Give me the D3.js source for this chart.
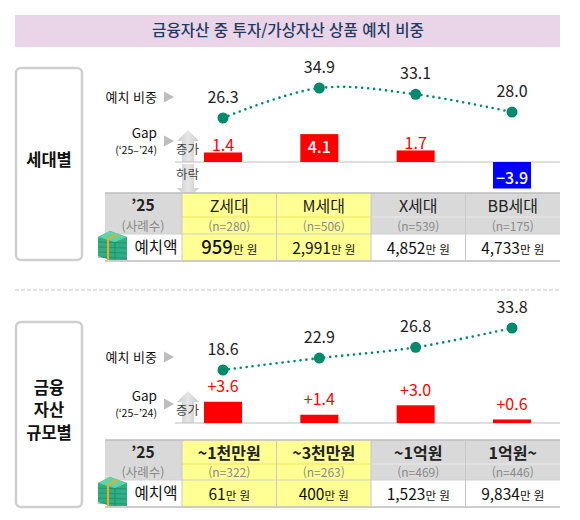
<!DOCTYPE html>
<html lang="ko">
<head>
<meta charset="UTF-8">
<title>금융자산 중 투자/가상자산 상품 예치 비중</title>
<script src="https://d3js.org/d3.v7.min.js"></script>
<style>
  body { margin: 0; background: #fff; }
  svg text { font-family: "Noto Sans CJK KR", "Noto Sans", sans-serif; }
</style>
</head>
<body>
<script>
// data
const genCats = ["Z세대", "M세대", "X세대", "BB세대"];
const genN = [280, 506, 539, 175];
const genShare = [26.3, 34.9, 33.1, 28.0];
const genGap = [1.4, 4.1, 1.7, -3.9];
const genAmount = [959, 2991, 4852, 4733];

const assetCats = ["~1천만원", "~3천만원", "~1억원", "1억원~"];
const assetN = [322, 263, 469, 446];
const assetShare = [18.6, 22.9, 26.8, 33.8];
const assetGap = [3.6, 1.4, 3.0, 0.6];
const assetAmount = [61, 400, 1523, 9834];

const highlighted = ["Z세대", "M세대", "~1천만원", "~3천만원"];

const svg = d3.select("body").append("svg")
    .attr("width", 580)
    .attr("height", 520);

// title banner
svg.append("rect").attr("x", 15).attr("y", 15).attr("width", 545).attr("height", 32)
    .attr("fill", "#ead5e8");
svg.append("text").attr("x", 288).attr("y", 31).attr("dy", "0.35em")
    .attr("text-anchor", "middle").attr("font-size", 15.6).attr("font-weight", 500)
    .attr("fill", "#1f3a63")
    .text("금융자산 중 투자/가상자산 상품 예치 비중");

// dashed separator
svg.append("line").attr("x1", 15).attr("x2", 560).attr("y1", 290).attr("y2", 290)
    .attr("stroke", "#c4c4c4").attr("stroke-dasharray", "4 2");

var sections = [
    { label: ["세대별"], cats: genCats, n: genN, share: genShare, gap: genGap, amount: genAmount,
      box: [68, 260], shareY: 97, gapY: 134, base: 162, lineRange: [118, 88], barK: 6.8,
      rows: [193, 217, 234, 261], down: true, plus: false, catBold: false, bigFirst: true },
    { label: ["금융", "자산", "규모별"], cats: assetCats, n: assetN, share: assetShare, gap: assetGap, amount: assetAmount,
      box: [322, 507], shareY: 357, gapY: 397, base: 423, lineRange: [370, 328], barK: 5.9,
      rows: [440, 464, 480, 507], down: false, plus: true, catBold: true, bigFirst: false }
];

var defs = svg.append("defs");
var grad = defs.append("linearGradient").attr("id", "arrowGrad").attr("x1", 0).attr("x2", 1);
grad.append("stop").attr("offset", "0%").attr("stop-color", "#c9c9c9");
grad.append("stop").attr("offset", "50%").attr("stop-color", "#e6e6e6");
grad.append("stop").attr("offset", "100%").attr("stop-color", "#c9c9c9");

sections.forEach(drawSection);

function drawSection(s) {
    var g = svg.append("g");

    // left label box
    g.append("rect").attr("x", 16).attr("y", s.box[0]).attr("width", 66)
        .attr("height", s.box[1] - s.box[0]).attr("rx", 5)
        .attr("fill", "#fff").attr("stroke", "#cfcfcf").attr("stroke-width", 2.5);
    var mid = (s.box[0] + s.box[1]) / 2 - 4;
    s.label.forEach(function(t, i) {
        g.append("text").attr("x", 49).attr("y", mid + (i - (s.label.length - 1) / 2) * 22.5)
            .attr("dy", "0.35em").attr("text-anchor", "middle")
            .attr("font-size", 16.5).attr("font-weight", 700).attr("fill", "#111")
            .text(t);
    });

    // row labels
    g.append("text").attr("x", 157).attr("y", s.shareY).attr("dy", "0.35em")
        .attr("text-anchor", "end").attr("font-size", 13).attr("fill", "#111").text("예치 비중");
    g.append("text").attr("x", 157).attr("y", s.gapY - 1).attr("dy", "0.35em")
        .attr("text-anchor", "end").attr("font-size", 13.5).attr("fill", "#111").text("Gap");
    g.append("text").attr("x", 157).attr("y", s.gapY + 16).attr("dy", "0.35em")
        .attr("text-anchor", "end").attr("font-size", 10.5).attr("fill", "#111").text("(‘25–’24)");
    [s.shareY, s.gapY + 7].forEach(function(y) {
        g.append("path")
            .attr("d", "M164," + (y - 5.5) + "L174," + y + "L164," + (y + 5.5) + "Z")
            .attr("fill", "#bdbdbd");
    });

    // up / down arrows
    var b = s.base;
    g.append("path")
        .attr("d", "M188," + (b - 32) + "L199," + (b - 21) + "L194," + (b - 21) + "L194," + b +
              "L182," + b + "L182," + (b - 21) + "L177," + (b - 21) + "Z")
        .attr("fill", "url(#arrowGrad)");
    g.append("text").attr("x", 176).attr("y", b - 12).attr("dy", "0.35em")
        .attr("font-size", 12.5).attr("fill", "#444").text("증가");
    if (s.down) {
        g.append("path")
            .attr("d", "M182," + (b + 2) + "L194," + (b + 2) + "L194," + (b + 26) + "L199," + (b + 26) +
                  "L188," + (b + 37) + "L177," + (b + 26) + "L182," + (b + 26) + "Z")
            .attr("fill", "url(#arrowGrad)");
        g.append("text").attr("x", 176).attr("y", b + 13).attr("dy", "0.35em")
            .attr("font-size", 12.5).attr("fill", "#444").text("하락");
    }

    // baseline
    g.append("line").attr("x1", 175).attr("x2", 560).attr("y1", b).attr("y2", b)
        .attr("stroke", "#bdbdbd").attr("stroke-width", 1);

    var x = d3.scalePoint().domain(s.cats).range([223, 512]);
    var yLine = d3.scaleLinear().domain(d3.extent(s.share)).range(s.lineRange);
    var yBar = d3.scaleLinear().domain([0, 1]).range([b, b - s.barK]);

    // gap bars
    var bw = 38;
    var gaps = s.cats.map(function(c, i) { return { c: c, v: s.gap[i] }; });
    g.selectAll("rect.bar").data(gaps).enter().append("rect")
        .attr("class", "bar")
        .attr("x", function(d) { return x(d.c) - bw / 2; })
        .attr("y", function(d) { return Math.min(yBar(d.v), b); })
        .attr("width", bw)
        .attr("height", function(d) { return Math.abs(yBar(d.v) - b); })
        .attr("fill", function(d) { return d.v < 0 ? "#0000ff" : "#ff0000"; });

    function inside(d) { return !s.plus && Math.abs(d.v) >= 3; }
    g.selectAll("text.gap").data(gaps).enter().append("text")
        .attr("class", "gap")
        .attr("x", function(d) { return x(d.c); })
        .attr("y", function(d) {
            if (inside(d)) return (yBar(d.v) + b) / 2 + (d.v < 0 ? 3 : -1);
            return yBar(d.v) - (s.plus ? 15 : 7);
        })
        .attr("dy", "0.35em").attr("text-anchor", "middle")
        .attr("font-size", 16)
        .attr("font-weight", function(d) { return inside(d) ? 500 : 400; })
        .attr("fill", function(d) { return inside(d) ? "#fff" : "#ff0000"; })
        .text(function(d) {
            var t = d3.format(".1f")(Math.abs(d.v));
            if (d.v < 0) return "−" + t;
            return s.plus ? "+" + t : t;
        });

    // share line
    var pts = s.cats.map(function(c, i) { return { c: c, v: s.share[i] }; });
    var line = d3.line()
        .x(function(d) { return x(d.c); })
        .y(function(d) { return yLine(d.v); })
        .curve(d3.curveCatmullRom.alpha(0.5));
    g.append("path").datum(pts).attr("d", line)
        .attr("fill", "none").attr("stroke", "#008a6c").attr("stroke-width", 2.6)
        .attr("stroke-linecap", "round").attr("stroke-dasharray", "0 6");
    g.selectAll("circle.pt").data(pts).enter().append("circle")
        .attr("class", "pt")
        .attr("cx", function(d) { return x(d.c); })
        .attr("cy", function(d) { return yLine(d.v); })
        .attr("r", 5.5).attr("fill", "#008a6c");
    g.selectAll("text.pt").data(pts).enter().append("text")
        .attr("class", "pt")
        .attr("x", function(d) { return x(d.c); })
        .attr("y", function(d) { return yLine(d.v) - 21; })
        .attr("dy", "0.35em").attr("text-anchor", "middle")
        .attr("font-size", 16).attr("fill", "#222")
        .text(function(d) { return d3.format(".1f")(d.v); });

    // table
    var r = s.rows;
    var col = d3.scaleBand().domain(s.cats).range([182, 560]);
    var yellow = "#ffff93", grey = "#d9d9d9";

    g.append("rect").attr("x", 105).attr("y", r[0]).attr("width", 77).attr("height", r[2] - r[0])
        .attr("fill", grey);
    s.cats.forEach(function(c) {
        var hi = highlighted.indexOf(c) >= 0;
        g.append("rect").attr("x", col(c)).attr("y", r[0]).attr("width", col.bandwidth())
            .attr("height", r[2] - r[0]).attr("fill", hi ? yellow : grey);
        g.append("rect").attr("x", col(c)).attr("y", r[2]).attr("width", col.bandwidth())
            .attr("height", r[3] - r[2]).attr("fill", hi ? yellow : "#fff");
        g.append("line").attr("x1", col(c)).attr("x2", col(c) + col.bandwidth())
            .attr("y1", r[1]).attr("y2", r[1])
            .attr("stroke", hi ? "#f2e45a" : "#e9e9e9").attr("stroke-width", 1);
    });
    [r[0], r[2], r[3]].forEach(function(y, i) {
        g.append("line").attr("x1", 105).attr("x2", 560).attr("y1", y).attr("y2", y)
            .attr("stroke", i == 1 ? "#cfcfcf" : "#bdbdbd").attr("stroke-width", i == 1 ? 1 : 1.5);
    });
    s.cats.forEach(function(c) {
        g.append("line").attr("x1", col(c)).attr("x2", col(c)).attr("y1", r[0]).attr("y2", r[3])
            .attr("stroke", "#c8c8c8").attr("stroke-width", 1);
    });

    var hy = (r[0] + r[1]) / 2 + 1, ny = (r[1] + r[2]) / 2 + 1, ay = (r[2] + r[3]) / 2 + 0.5;
    g.append("text").attr("x", 143).attr("y", hy).attr("dy", "0.35em").attr("text-anchor", "middle")
        .attr("font-size", 15.5).attr("font-weight", 700).attr("fill", "#222").text("’25");
    g.append("text").attr("x", 143).attr("y", ny).attr("dy", "0.35em").attr("text-anchor", "middle")
        .attr("font-size", 12.5).attr("fill", "#8a8a8a").text("(사례수)");
    g.append("text").attr("x", 156).attr("y", ay).attr("dy", "0.35em").attr("text-anchor", "middle")
        .attr("font-size", 15.5).attr("fill", "#111").text("예치액");

    s.cats.forEach(function(c, i) {
        var cx = col(c) + col.bandwidth() / 2;
        g.append("text").attr("x", cx).attr("y", hy).attr("dy", "0.35em").attr("text-anchor", "middle")
            .attr("font-size", 16).attr("font-weight", s.catBold ? 700 : 400).attr("fill", "#222")
            .text(c);
        g.append("text").attr("x", cx).attr("y", ny).attr("dy", "0.35em").attr("text-anchor", "middle")
            .attr("font-size", 12).attr("fill", "#8a8a8a").text("(n=" + s.n[i] + ")");
        var big = s.bigFirst && i == 0;
        var t = g.append("text").attr("x", cx).attr("y", ay).attr("dy", "0.35em")
            .attr("text-anchor", "middle").attr("fill", "#111");
        t.append("tspan").attr("font-size", big ? 18.5 : 15.5).attr("font-weight", big ? 500 : 400)
            .text(d3.format(",")(s.amount[i]));
        t.append("tspan").attr("font-size", 11.5).text("만 원");
    });

    // money icon
    var ix = 98, iy = r[2] - 3;
    var ic = g.append("g");
    ic.append("path")
        .attr("d", "M" + ix + "," + (iy + 6) + "L" + (ix + 12) + "," + iy + "L" + (ix + 29) + "," + (iy + 6) +
              "L" + (ix + 29) + "," + (iy + 29) + "L" + (ix + 12) + "," + (iy + 29) + "L" + ix + "," + (iy + 25) + "Z")
        .attr("fill", "#2fae83");
    ic.append("path")
        .attr("d", "M" + ix + "," + (iy + 6) + "L" + (ix + 12) + "," + iy + "L" + (ix + 29) + "," + (iy + 6) +
              "L" + (ix + 17) + "," + (iy + 11) + "Z")
        .attr("fill", "#5fd3a6");
    [12, 17, 22, 27].forEach(function(dy) {
        ic.append("line").attr("x1", ix).attr("x2", ix + 29).attr("y1", iy + dy - 1).attr("y2", iy + dy)
            .attr("stroke", "#1d8f68").attr("stroke-width", 0.8);
    });
    ic.append("line").attr("x1", ix + 17).attr("x2", ix + 17).attr("y1", iy + 11).attr("y2", iy + 29)
        .attr("stroke", "#1d8f68").attr("stroke-width", 1);
    ic.append("path")
        .attr("d", "M" + (ix + 19) + "," + (iy + 3) + "L" + (ix + 10) + "," + (iy + 8) + "L" + (ix + 10) + "," + (iy + 29))
        .attr("fill", "none").attr("stroke", "#f5a623").attr("stroke-width", 2);
}
</script>
</body>
</html>
